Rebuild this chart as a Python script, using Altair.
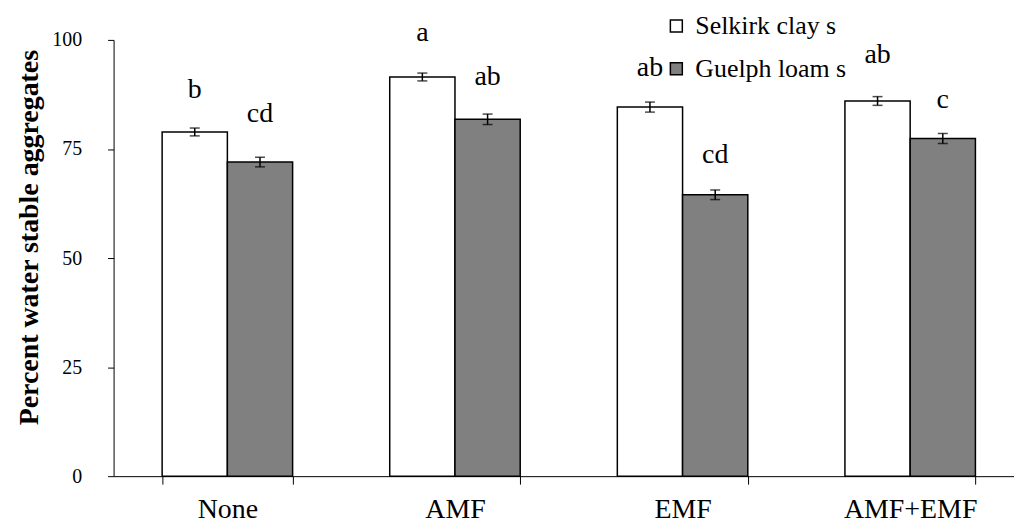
import altair as alt
import pandas as pd

treatments = ["None", "AMF", "EMF", "AMF+EMF"]
soils = ["Selkirk clay soil", "Guelph loam soil"]

selkirk = [78.9, 91.5, 84.6, 86.0]
guelph = [72.0, 81.8, 64.5, 77.4]
selkirk_se = [0.9, 0.9, 1.15, 1.0]
guelph_se = [1.1, 1.2, 1.1, 1.15]
selkirk_letters = ["b", "a", "ab", "ab"]
guelph_letters = ["cd", "ab", "cd", "c"]
selkirk_letter_y = [88.6, 101.5, 93.5, 96.5]
guelph_letter_y = [83.1, 91.4, 73.6, 86.2]

rows = []
for i, t in enumerate(treatments):
    rows.append(dict(treatment=t, soil=soils[0], value=selkirk[i], se=selkirk_se[i],
                     letter=selkirk_letters[i], letter_y=selkirk_letter_y[i]))
    rows.append(dict(treatment=t, soil=soils[1], value=guelph[i], se=guelph_se[i],
                     letter=guelph_letters[i], letter_y=guelph_letter_y[i]))
df = pd.DataFrame(rows)
df["lo"] = df["value"] - df["se"]
df["hi"] = df["value"] + df["se"]

FONT = "Liberation Serif"

x = alt.X(
    "treatment:N",
    sort=treatments,
    scale=alt.Scale(range=[0, 914], paddingInner=0.4267, paddingOuter=0.2133),
    axis=alt.Axis(
        title=None, tickBand="extent", labelAngle=0, labelFontSize=28,
        labelPadding=11, tickSize=8, domainColor="black", tickColor="black",
        labelColor="black", labelFont=FONT, domainWidth=1, tickWidth=1,
    ),
)
xoff = alt.XOffset("soil:N", sort=soils, scale=alt.Scale(paddingInner=0, paddingOuter=0))

y_axis = alt.Axis(
    values=[0, 25, 50, 75, 100], title="Percent water stable aggregates",
    titleFontSize=28, titleFontWeight="bold", titleFont=FONT, titleColor="black",
    labelFontSize=20, labelFont=FONT, labelColor="black", labelPadding=26,
    tickSize=6, grid=False, domainColor="black", tickColor="black",
    titleX=-84, titleY=198, titleBaseline="middle", titleAlign="center", titleAngle=-90,
)

base = alt.Chart(df)

bars = base.mark_bar(stroke="black", strokeWidth=1.5).encode(
    x=x,
    xOffset=xoff,
    y=alt.Y("value:Q", scale=alt.Scale(domain=[0, 100], nice=False), axis=y_axis),
    fill=alt.Fill(
        "soil:N", sort=soils,
        scale=alt.Scale(domain=soils, range=["white", "#808080"]),
        legend=alt.Legend(
            title=None, orient="none", legendX=552, legendY=-27, direction="vertical",
            labelFontSize=26, labelFont=FONT, labelColor="black", symbolType="square",
            symbolSize=144, symbolStrokeColor="black", symbolStrokeWidth=1.5,
            rowPadding=17, labelOffset=6,
            labelExpr="slice(datum.label, 0, indexof(datum.label, ' soil') + 2)",
        ),
    ),
)

rules = base.mark_rule(color="black", strokeWidth=1.5).encode(
    x=x, xOffset=xoff, y=alt.Y("lo:Q"), y2="hi:Q"
)
caps_lo = base.mark_tick(color="black", thickness=1.5, size=10).encode(
    x=x, xOffset=xoff, y=alt.Y("lo:Q")
)
caps_hi = base.mark_tick(color="black", thickness=1.5, size=10).encode(
    x=x, xOffset=xoff, y=alt.Y("hi:Q")
)
letters = base.mark_text(font=FONT, fontSize=28, color="black", baseline="middle").encode(
    x=x, xOffset=xoff, y=alt.Y("letter_y:Q"), text="letter:N"
)

chart = alt.layer(bars, rules, caps_lo, caps_hi, letters).properties(
    width=904, height=438,
    autosize=alt.AutoSizeParams(type="none"),
    padding={"left": 106, "top": 31, "right": 0, "bottom": 50},
).configure(
    background="white", font=FONT
).configure_view(stroke=None).configure_legend(labelFont=FONT)

chart.save("out.html", embed_options={"renderer": "svg", "actions": False})
